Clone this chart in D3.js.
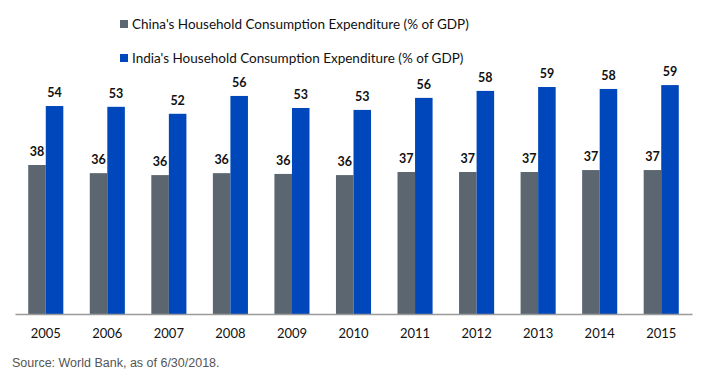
<!DOCTYPE html>
<html lang="en">
<head>
<meta charset="UTF-8">
<title>Household Consumption Expenditure</title>
<script src="https://d3js.org/d3.v7.min.js"></script>
<style>
  body { margin: 0; background: #fff; }
  svg { display: block; }
</style>
</head>
<body>
<svg></svg>
<script>
const years = ['2005','2006','2007','2008','2009','2010','2011','2012','2013','2014','2015'];
const china = [38.4, 36.3, 35.8, 36.3, 36.1, 35.8, 36.6, 36.6, 36.6, 37.1, 37.1];
const india = [53.6, 53.4, 51.6, 56.2, 53.1, 52.6, 55.7, 57.5, 58.5, 58.0, 59.0];
const chinaLabels = ['38','36','36','36','36','36','37','37','37','37','37'];
const indiaLabels = ['54','53','52','56','53','53','56','58','59','58','59'];
const seriesNames = ["China's Household Consumption Expenditure (% of GDP)",
                     "India's Household Consumption Expenditure (% of GDP)"];
const colors = ['#5b6670', '#0047bb'];

const width = 711, height = 381;
const svg = d3.select('svg').attr('width', width).attr('height', height);

const x = d3.scaleBand().domain(years).range([15, 692]).paddingInner(0.43).paddingOuter(0.215);
const xs = d3.scaleBand().domain([0, 1]).range([0, x.bandwidth()]);
const y = d3.scaleLinear().domain([0, 60]).range([314, 81.2]);

const series = [
  {values: china, labels: chinaLabels},
  {values: india, labels: indiaLabels}
];

// bars
series.forEach((s, si) => {
  const g = svg.append('g');
  g.selectAll('rect')
    .data(s.values)
    .enter()
    .append('rect')
    .attr('x', (d, i) => x(years[i]) + xs(si))
    .attr('width', xs.bandwidth())
    .attr('y', d => y(d))
    .attr('height', d => y(0) - y(d))
    .attr('fill', colors[si]);

  g.selectAll('text')
    .data(s.values)
    .enter()
    .append('text')
    .attr('x', (d, i) => x(years[i]) + xs(si) + xs.bandwidth() / 2)
    .attr('y', d => y(d) - 9)
    .attr('text-anchor', 'middle')
    .attr('font-family', 'Lato, sans-serif')
    .attr('font-weight', 'bold')
    .attr('font-size', '12.5px')
    .attr('fill', '#111')
    .text((d, i) => s.labels[i]);
});

// x axis
const xAxis = d3.axisBottom(x).tickSize(0).tickPadding(15);
const axisG = svg.append('g')
  .attr('transform', `translate(0, ${y(0)})`)
  .call(xAxis);
axisG.select('.domain').attr('stroke', '#9a9a9a').attr('stroke-width', 1.5);
axisG.selectAll('.tick text')
  .attr('font-family', 'Lato, sans-serif')
  .attr('font-size', '13px')
  .attr('fill', '#111');

// legend
const legend = svg.append('g')
  .selectAll('g')
  .data(seriesNames)
  .enter()
  .append('g')
  .attr('transform', (d, i) => `translate(120, ${20 + i * 34})`);
legend.append('rect')
  .attr('width', 8).attr('height', 8)
  .attr('fill', (d, i) => colors[i]);
legend.append('text')
  .attr('x', 12)
  .attr('y', 8.5)
  .attr('font-family', 'Lato, sans-serif')
  .attr('font-size', '13.5px')
  .attr('fill', '#111')
  .text(d => d);

// source
svg.append('text')
  .attr('x', 12)
  .attr('y', 367)
  .attr('font-family', '"Liberation Sans", Arial, sans-serif')
  .attr('font-size', '12.5px')
  .attr('fill', '#555')
  .text('Source: World Bank, as of 6/30/2018.');
</script>
</body>
</html>
